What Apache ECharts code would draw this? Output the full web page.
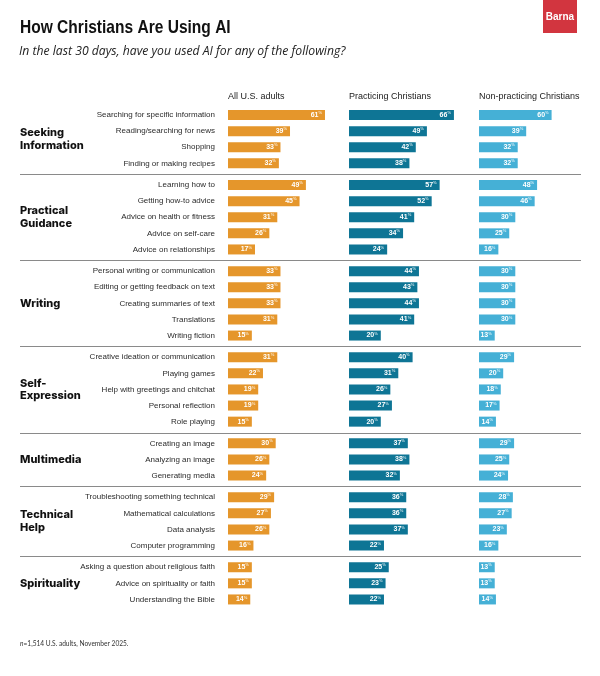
<!DOCTYPE html>
<html>
<head>
<meta charset="utf-8">
<script src="https://cdn.jsdelivr.net/npm/echarts@6/dist/echarts.min.js"></script>
<style>
  html, body { margin: 0; padding: 0; background: #fff; }
  #chart { width: 600px; height: 676px; }
</style>
</head>
<body>
<div id="chart"></div>
<script>
const columns = ['All U.S. adults', 'Practicing Christians', 'Non-practicing Christians'];
const groups = ['Seeking\nInformation', 'Practical\nGuidance', 'Writing', 'Self-\nExpression', 'Multimedia', 'Technical\nHelp', 'Spirituality'];
const items = [
  ['Searching for specific information', 'Reading/searching for news', 'Shopping', 'Finding or making recipes'],
  ['Learning how to', 'Getting how-to advice', 'Advice on health or fitness', 'Advice on self-care', 'Advice on relationships'],
  ['Personal writing or communication', 'Editing or getting feedback on text', 'Creating summaries of text', 'Translations', 'Writing fiction'],
  ['Creative ideation or communication', 'Playing games', 'Help with greetings and chitchat', 'Personal reflection', 'Role playing'],
  ['Creating an image', 'Analyzing an image', 'Generating media'],
  ['Troubleshooting something technical', 'Mathematical calculations', 'Data analysis', 'Computer programming'],
  ['Asking a question about religious faith', 'Advice on spirituality or faith', 'Understanding the Bible']
];
const allAdults = [[61, 39, 33, 32], [49, 45, 31, 26, 17], [33, 33, 33, 31, 15], [31, 22, 19, 19, 15], [30, 26, 24], [29, 27, 26, 16], [15, 15, 14]];
const practicing = [[66, 49, 42, 38], [57, 52, 41, 34, 24], [44, 43, 44, 41, 20], [40, 31, 26, 27, 20], [37, 38, 32], [36, 36, 37, 22], [25, 23, 22]];
const nonPracticing = [[60, 39, 32, 32], [48, 46, 30, 25, 16], [30, 30, 30, 30, 13], [29, 20, 18, 17, 14], [29, 25, 24], [28, 27, 23, 16], [13, 13, 14]];

const seriesData = [allAdults, practicing, nonPracticing];
const colors = ['#E5962B', '#0E7595', '#45B0D6'];
const colLeft = [228, 349, 479];
const colWidth = 159; // 100% -> 159px
const rowPitch = 16.1;
const groupGap = 5.6;
const firstTop = 107;

const chart = echarts.init(document.getElementById('chart'));

const grids = [], xAxes = [], yAxes = [], series = [];
const graphics = [];
let cursorY = firstTop;

items.forEach((list, g) => {
  const h = list.length * rowPitch;
  columns.forEach((col, c) => {
    const idx = g * 3 + c;
    grids.push({ left: colLeft[c], top: cursorY, width: colWidth, height: h });
    xAxes.push({ type: 'value', gridIndex: idx, min: 0, max: 100, show: false });
    yAxes.push({
      type: 'category', gridIndex: idx, data: list, inverse: true,
      axisLine: { show: false }, axisTick: { show: false },
      axisLabel: {
        show: c === 0, margin: 13, fontSize: 8, color: '#2b2b2b',
        fontFamily: 'Liberation Sans'
      }
    });
    series.push({
      type: 'bar', xAxisIndex: idx, yAxisIndex: idx,
      barWidth: 10, silent: true,
      itemStyle: { color: colors[c] },
      data: seriesData[c][g],
      label: {
        show: true, position: 'insideRight', distance: 3,
        formatter: p => '{v|' + p.value + '}{p|%}',
        rich: {
          v: { color: '#fff', fontSize: 7, fontWeight: 'bold', fontFamily: 'Liberation Sans', lineHeight: 8 },
          p: { color: '#fff', fontSize: 4, fontFamily: 'Liberation Sans', verticalAlign: 'top', lineHeight: 8, padding: [0, 0, 3, 0] }
        }
      }
    });
  });
  // group name, centred on the group
  graphics.push({
    type: 'text', x: 20, y: cursorY + h / 2,
    style: {
      text: groups[g], fill: '#111', fontFamily: 'Inter', fontWeight: 800,
      fontSize: 11, lineHeight: 12.5, verticalAlign: 'middle', align: 'left'
    }
  });
  cursorY += h;
  if (g < items.length - 1) {
    const y = Math.round(cursorY + groupGap / 2) + 0.5;
    graphics.push({
      type: 'line', shape: { x1: 20, y1: y, x2: 581, y2: y },
      style: { stroke: '#8a8a8a', lineWidth: 1.2 }
    });
  }
  cursorY += groupGap;
});

// title (narrowed bold sans) and subtitle
graphics.push({
  type: 'text', x: 20, y: 28, scaleX: 0.84,
  style: { text: 'How Christians Are Using AI', fill: '#111', fontFamily: 'Liberation Sans', fontWeight: 'bold', fontSize: 18.5, verticalAlign: 'middle' }
});
graphics.push({
  type: 'text', x: 19, y: 52,
  style: { text: 'In the last 30 days, have you used AI for any of the following?', fill: '#222', fontFamily: 'Open Sans', fontStyle: 'italic', fontSize: 12.2, verticalAlign: 'middle' }
});

// column headers
columns.forEach((col, c) => {
  graphics.push({
    type: 'text', x: colLeft[c], y: 97,
    style: { text: col, fill: '#222', fontFamily: 'Liberation Sans', fontSize: 9, verticalAlign: 'middle' }
  });
});

// logo
graphics.push({ type: 'rect', shape: { x: 543, y: 0, width: 34, height: 33 }, style: { fill: '#D2353F' } });
graphics.push({
  type: 'text', x: 560, y: 17,
  style: { text: 'Barna', fill: '#fff', fontFamily: 'Liberation Sans', fontWeight: 'bold', fontSize: 10, align: 'center', verticalAlign: 'middle' }
});

// footer
graphics.push({
  type: 'text', x: 20, y: 644,
  style: {
    text: '{i|n}=1,514 U.S. adults, November 2025.', fill: '#333',
    fontFamily: 'Lato', fontSize: 6.6, verticalAlign: 'middle',
    rich: { i: { fontStyle: 'italic', fontFamily: 'Lato', fontSize: 6.6, fill: '#333' } }
  }
});

chart.setOption({
  backgroundColor: '#fff',
  animation: false,
  grid: grids,
  xAxis: xAxes,
  yAxis: yAxes,
  series: series,
  graphic: graphics
});
</script>
</body>
</html>
